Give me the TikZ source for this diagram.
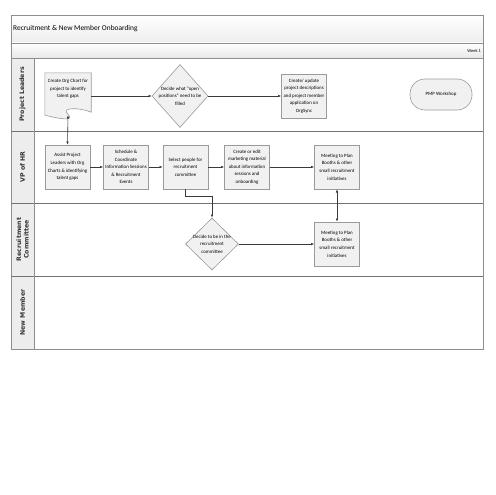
\documentclass[tikz,border=0pt]{standalone}
\usepackage{fontspec}
\setmainfont{Carlito}
\newfontfamily\lanefont{DejaVu Sans}
\usetikzlibrary{shapes.geometric,arrows.meta}
\definecolor{boxline}{HTML}{9A9A9A}
\definecolor{boxfill}{HTML}{F1F1F1}
\definecolor{frameline}{HTML}{8E8E8E}
\definecolor{lanefill}{HTML}{EDEDED}
\definecolor{arrcol}{HTML}{3A3A3A}
\begin{document}
\begin{tikzpicture}[x=1pt,y=-1pt,
  boxtext/.style={align=center, font=\fontsize{4.9}{7.6}\selectfont, inner sep=0pt},
  box/.style={draw=boxline, fill=boxfill, line width=0.6pt, minimum width=45pt, minimum height=44pt, align=center, font=\fontsize{4.9}{7.6}\selectfont, inner sep=0.5pt},
  dec/.style={diamond, draw=boxline, fill=boxfill, line width=0.6pt, inner sep=0pt, minimum width=56pt, minimum height=63pt},
  dectext/.style={align=center, font=\fontsize{4.9}{7.6}\selectfont, inner sep=0pt},
  lanelabel/.style={rotate=90, align=center, font=\lanefont\fontsize{6.2}{7.6}\selectfont\bfseries, text=black!80},
  arr/.style={draw=arrcol, line width=0.6pt, -{Latex[length=3.2pt,width=2.6pt]}},
  darr/.style={draw=arrcol, line width=0.6pt, {Latex[length=3.2pt,width=2.6pt]}-{Latex[length=3.2pt,width=2.6pt]}},
  frame/.style={draw=frameline, line width=0.8pt}
]
\useasboundingbox (0,0) rectangle (495,495);
\fill[white] (0,0) rectangle (495,495);
% title and week rows
\shade[top color=white, bottom color=black!7] (11,15) rectangle (483,43);
\shade[top color=white, bottom color=black!9] (11,43) rectangle (483,58);
\fill[lanefill] (11,58) rectangle (34,349);
% frame
\draw[frame] (11,15) rectangle (483,349);
\draw[frame] (11,43) -- (483,43);
\draw[frame] (11,58) -- (483,58);
\draw[frame, line width=1pt, draw=black!55] (11,131) -- (483,131);
\draw[frame, line width=1pt, draw=black!55] (11,203) -- (483,203);
\draw[frame, line width=1pt, draw=black!55] (11,276) -- (483,276);
\draw[frame] (34,58) -- (34,349);
\node[anchor=west, font=\fontsize{7.4}{9}\selectfont, inner sep=0pt] (title) at (13,29) {Recruitment \& New Member Onboarding};
\node[anchor=east, font=\fontsize{4.4}{5}\selectfont, inner sep=0pt] (week) at (481,50.5) {Week 1};
% lane labels
\node[lanelabel] (l1) at (22.5,94.5) {Project Leaders};
\node[lanelabel] (l2) at (22.5,167) {VP of HR};
\node[lanelabel] (l3) at (22.5,239.5) {Recruitment\\Committee};
\node[lanelabel] (l4) at (22.5,312.5) {New Member};
% document shape
\node[minimum width=46pt, minimum height=42pt, inner sep=0pt] (doc1) at (68,94) {};
\draw[draw=boxline, fill=boxfill, line width=0.6pt]
  (doc1.north west) -- (doc1.north east) -- ([yshift=3pt]doc1.south east)
  .. controls ([xshift=-12pt,yshift=8pt]doc1.south east) and ([xshift=-8pt,yshift=8pt]doc1.south) .. ([yshift=1pt]doc1.south)
  .. controls ([xshift=8pt,yshift=-7pt]doc1.south) and ([xshift=12pt,yshift=-3pt]doc1.south west) .. (doc1.south west) -- cycle;
\node[boxtext] (doc1t) at (68,89) {Create Org Chart for\\project to identify\\talent gaps};
% project leaders lane
\node[dec, label={[dectext]center:Decide what ``open\\positions'' need to be\\filled}] (d1) at (180,96) {};
\node[box] (p1) at (304,96) {Create/ update\\project descriptions\\and project member\\application on\\OrgSync};
\node[draw=boxline, fill=boxfill, line width=0.6pt, rounded corners=15pt, minimum width=62pt, minimum height=31pt, font=\fontsize{4.9}{7}\selectfont] (pmp) at (441,94.5) {PMP Workshop};
% VP of HR lane
\node[box] (a1) at (67.5,167) {Assist Project\\Leaders with Org\\Charts \& identifying\\talent gaps};
\node[box] (a2) at (126,167) {Schedule \&\\Coordinate\\Information Sessions\\\& Recruitment\\Events};
\node[box] (a3) at (185.5,167) {Select people for\\recruitment\\committee};
\node[box] (a4) at (247,167) {Create or edit\\marketing material\\about information\\sessions and\\onboarding};
\node[box] (m1) at (337,167) {Meeting to Plan\\Booths \& other\\small recruitment\\initiatives};
% recruitment committee lane
\node[dec, minimum width=53pt, minimum height=52pt, label={[dectext]center:Decide to be in the\\recruitment\\committee}] (d2) at (212,244) {};
\node[box] (m2) at (337,244) {Meeting to Plan\\Booths \& other\\small recruitment\\initiatives};
% connectors
\draw[arr] (doc1.east |- d1.west) -- (d1.west);
\draw[arr] (d1.east) -- (p1.west);
\draw[darr] (doc1.south) -- (a1.north);
\draw[arr] (a1) -- (a2);
\draw[arr] (a2) -- (a3);
\draw[arr] (a3) -- (a4);
\draw[arr] (a4) -- (m1);
\draw[arr] (a3.south) -- ++(0,7) -| (d2.north);
\draw[arr] (d2.east) -- (m2.west);
\draw[darr] (m1.south) -- (m2.north);
\end{tikzpicture}
\end{document}
